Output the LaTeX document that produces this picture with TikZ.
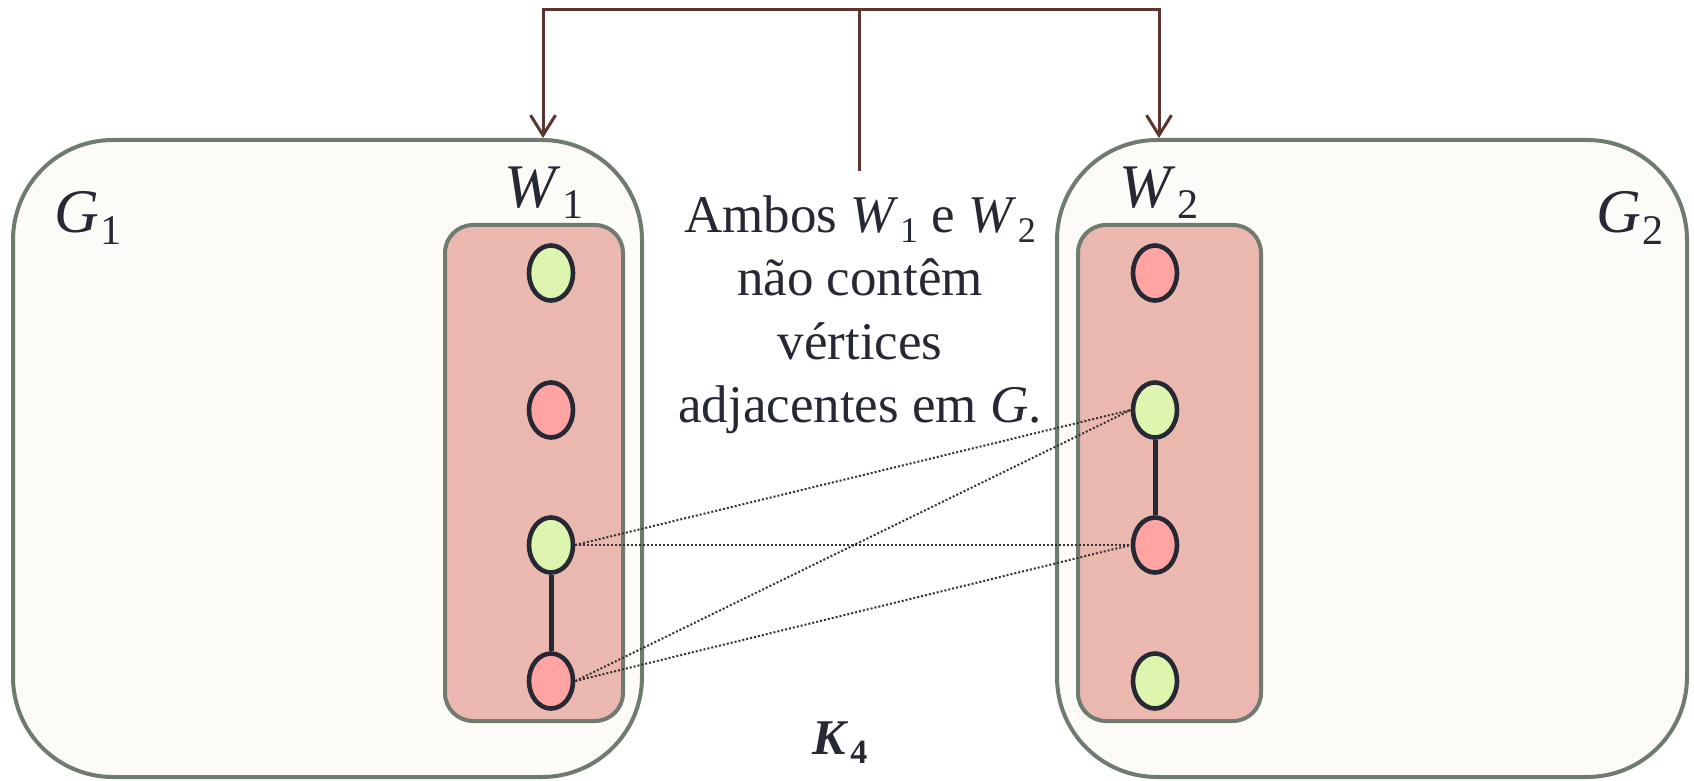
\documentclass[tikz,border=0pt]{standalone}
\usepackage{fontspec}
\usepackage{graphicx}
\setmainfont{Liberation Serif}
\usetikzlibrary{arrows.meta,shapes.geometric}

\definecolor{outerfill}{HTML}{FCFBF7}
\definecolor{boxline}{HTML}{6F7B6F}
\definecolor{setfill}{HTML}{EBB8B0}
\definecolor{vgreen}{HTML}{DDF5AE}
\definecolor{vpink}{HTML}{FFA3A3}
\definecolor{vtxline}{HTML}{262833}
\definecolor{ink}{HTML}{262833}
\definecolor{brownline}{HTML}{5C3530}
\definecolor{dotline}{HTML}{333333}

% italic letter with an upright, lowered index
\newcommand\mvar[2]{\textit{#1}\kern0.03em\raisebox{-0.18em}{\scalebox{0.68}{#2}}}

\pgfdeclarelayer{boxes}
\pgfdeclarelayer{links}
\pgfsetlayers{boxes,links,main}

\begin{document}
\begin{tikzpicture}[x=0.5pt,y=-0.5pt,
  graphbox/.style={draw=boxline, fill=outerfill, line width=2pt,
    rounded corners=50pt, minimum width=#1, minimum height=318.5pt,
    inner sep=0pt, outer sep=0pt},
  setbox/.style={draw=boxline, fill=setfill, line width=2pt,
    rounded corners=14pt, minimum width=#1, minimum height=248pt,
    inner sep=0pt, outer sep=0pt},
  vtx/.style={ellipse, draw=vtxline, line width=2.3pt, minimum width=22pt,
    minimum height=27.5pt, inner sep=0pt},
  grn/.style={vtx, fill=vgreen},
  pnk/.style={vtx, fill=vpink},
  lbl/.style={font=\fontsize{31}{36}\selectfont, text=ink, inner sep=0pt},
  tie/.style={draw=vtxline, line width=2.5pt},
  cross/.style={draw=dotline, line width=1pt, densely dotted},
  link/.style={draw=brownline, line width=1.5pt},
  linkarrow/.style={link, -{Straight Barb[length=10pt,width=12.5pt]}}
]
\useasboundingbox (0,0) rectangle (1694,781);

% the two graphs and their vertex sets
\begin{pgfonlayer}{boxes}
  \node[graphbox=314.5pt] (G1) at (327.5,458.5) {};
  \node[graphbox=315pt]   (G2) at (1372,458.5) {};
  \node[setbox=89pt]      (W1) at (534,473) {};
  \node[setbox=91.5pt]    (W2) at (1169.5,473) {};
\end{pgfonlayer}

% vertices of W1
\node[grn] (a1) at (551,273) {};
\node[pnk] (a2) at (551,410) {};
\node[grn] (a3) at (551,545) {};
\node[pnk] (a4) at (551,681) {};
% vertices of W2
\node[pnk] (b1) at (1155,273) {};
\node[grn] (b2) at (1155,410) {};
\node[pnk] (b3) at (1155,545) {};
\node[grn] (b4) at (1155,681) {};

% edges
\begin{pgfonlayer}{links}
  \draw[tie] (a3) -- (a4);
  \draw[tie] (b2) -- (b3);
  \draw[cross] (a3.east) -- (b2.west);
  \draw[cross] (a3.east) -- (b3.west);
  \draw[cross] (a4.east) -- (b2.west);
  \draw[cross] (a4.east) -- (b3.west);
\end{pgfonlayer}

% labels
\node[lbl] (lG1) at (88,218)   {\mvar{G}{1}};
\node[lbl] (lG2) at (1630,218) {\mvar{G}{2}};
\node[lbl] (lW1) at (544,193)  {\mvar{W}{1}};
\node[lbl] (lW2) at (1159,193) {\mvar{W}{2}};
\node[lbl, font=\fontsize{25}{30}\selectfont\bfseries] (lK) at (840,743)
  {\mvar{K}{4}};

% note and its pointer to both sets
\node[text=ink, inner sep=0pt, align=center,
  font=\fontsize{26.5}{31.75}\selectfont] (note) at (860,315)
  {Ambos \mvar{W}{1} e \mvar{W}{2}\\não contêm\\vértices\\adjacentes em \textit{G}.};

\coordinate (stem) at (859,171);
\coordinate (hub)  at (859,10);
\coordinate (in1)  at (543,138);
\coordinate (in2)  at (1159,138);
\draw[link] (stem) -- (hub);
\draw[linkarrow] (hub) -| (in1);
\draw[linkarrow] (hub) -| (in2);
\end{tikzpicture}
\end{document}
